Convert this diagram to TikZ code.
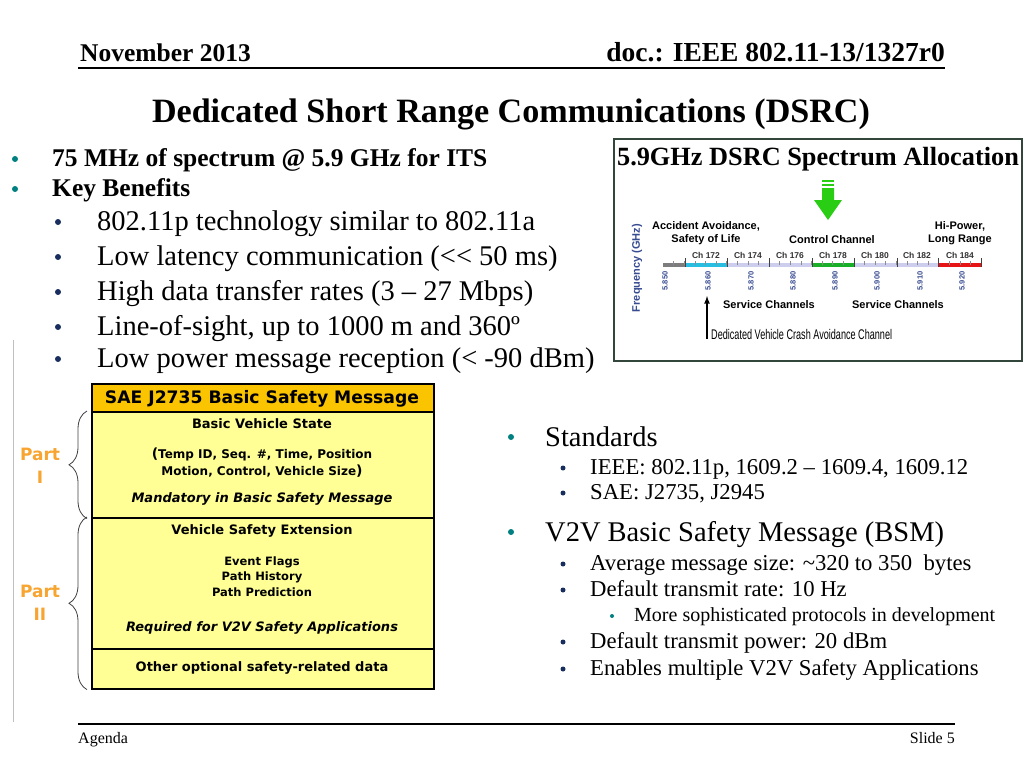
\documentclass[tikz,border=0pt]{standalone}
\usepackage{fontspec}
\setmainfont{Liberation Serif}
\newfontfamily\vfont{DejaVu Sans}
\newfontfamily\afont{Liberation Sans}
\usetikzlibrary{decorations.pathreplacing}

\definecolor{tealbul}{RGB}{0,128,128}
\definecolor{navybul}{RGB}{25,45,95}
\definecolor{hdrgold}{RGB}{250,196,0}
\definecolor{boxyel}{RGB}{255,255,150}
\definecolor{partorg}{RGB}{247,164,48}
\definecolor{frmgreen}{RGB}{50,70,60}
\definecolor{chgray}{RGB}{125,125,125}
\definecolor{chcyan}{RGB}{40,190,225}
\definecolor{chlav}{RGB}{205,205,238}
\definecolor{chgreen}{RGB}{25,175,40}
\definecolor{chred}{RGB}{230,20,20}
\definecolor{freqblue}{RGB}{55,75,145}
\definecolor{arrgreen}{RGB}{40,205,20}

\newcommand{\sz}[1]{\fontsize{#1}{#1}\selectfont}

\tikzset{
  hdr/.style={font=\sz{25.5}\bfseries},
  lone/.style={anchor=base west, font=\sz{25.5}\bfseries},
  ltwo/.style={anchor=base west, font=\sz{28.5}},
  rone/.style={anchor=base west, font=\sz{28.5}},
  rtwo/.style={anchor=base west, font=\sz{22.7}},
  rthree/.style={anchor=base west, font=\sz{20}},
  dotone/.style={circle, fill=tealbul, minimum size=6pt},
  dottwo/.style={circle, fill=navybul, minimum size=6pt},
  boxtxt/.style={font=\vfont\bfseries\sz{13}},
  boxsec/.style={draw, line width=1.6pt, fill=boxyel, minimum width=342pt, anchor=north west},
  partlbl/.style={text=partorg, align=center, font=\vfont\bfseries\fontsize{17}{23}\selectfont},
  chart/.style={font=\afont\bfseries\sz{11}},
  chlbl/.style={font=\afont\bfseries\sz{8.5}, text=black!80},
  freqlbl/.style={font=\afont\bfseries\sz{7.5}, text=freqblue}
}

\begin{document}
\begin{tikzpicture}[x=1pt, y=-1pt, every node/.style={inner sep=0pt}]
\useasboundingbox (0,0) rectangle (1024,768);

\draw (80,62)  node (date) [hdr, anchor=base west] {November 2013};
\draw (945,62) node (doc)  [hdr, anchor=base east, font=\sz{27.5}\bfseries] {doc.: IEEE 802.11-13/1327r0};
\draw[line width=1.5pt] (78,68) -- (945,68);

\draw (511,122) node (title) [anchor=base, font=\sz{34.1}\bfseries] {Dedicated Short Range Communications (DSRC)};

\draw (15,159) node (d1) [dotone] {};
\draw (52,166) node (b1) [lone] {75 MHz of spectrum @ 5.9 GHz for ITS};
\draw (15,189) node (d2) [dotone] {};
\draw (52,196) node (b2) [lone] {Key Benefits};

\draw (58,222) node (e1) [dottwo] {};
\draw (97,230) node (k1) [ltwo] {802.11p technology similar to 802.11a};
\draw (58,257) node (e2) [dottwo] {};
\draw (97,265) node (k2) [ltwo] {Low latency communication ({<}{<} 50 ms)};
\draw (58,292) node (e3) [dottwo] {};
\draw (97,300) node (k3) [ltwo] {High data transfer rates (3 -- 27 Mbps)};
\draw (58,327) node (e4) [dottwo] {};
\draw (97,335) node (k4) [ltwo] {Line-of-sight, up to 1000 m and 360º};
\draw (58,359) node (e5) [dottwo] {};
\draw (97,367) node (k5) [ltwo] {Low power message reception (< -90 dBm)};

\draw[black!25] (13,340) -- (13,722);

\draw (91,383) node (bsmhead) [boxsec, fill=hdrgold, minimum height=28pt] {};
\draw (91,411) node (partone) [boxsec, minimum height=106pt] {};
\draw (91,517) node (parttwo) [boxsec, minimum height=131pt] {};
\draw (91,648) node (partopt) [boxsec, minimum height=40pt] {};

\draw (262,399) node (bsmtitle) [boxtxt, font=\vfont\bfseries\sz{17.2}] {SAE J2735 Basic Safety Message};
\draw (262,424) node (bvs)  [boxtxt] {Basic Vehicle State};
\draw (262,454) node (bvs1) [boxtxt, font=\vfont\bfseries\sz{12}] {{\sz{14}(}Temp ID, Seq. \#, Time, Position};
\draw (262,471) node (bvs2) [boxtxt, font=\vfont\bfseries\sz{12}] {Motion, Control, Vehicle Size{\sz{14})}};
\draw (262,499) node (bvs3) [boxtxt, font=\vfont\bfseries\itshape\sz{13}] {Mandatory in Basic Safety Message};
\draw (262,531) node (vse)  [boxtxt] {Vehicle Safety Extension};
\draw (262,562) node (vse1) [boxtxt, font=\vfont\bfseries\sz{11.5}] {Event Flags};
\draw (262,577) node (vse2) [boxtxt, font=\vfont\bfseries\sz{11.5}] {Path History};
\draw (262,592) node (vse3) [boxtxt, font=\vfont\bfseries\sz{11.5}] {Path Prediction};
\draw (262,628) node (vse4) [boxtxt, font=\vfont\bfseries\itshape\sz{13}] {Required for V2V Safety Applications};
\draw (262,668) node (opt)  [boxtxt] {Other optional safety-related data};

\draw[black!75, line width=0.8pt, decorate, decoration={brace, amplitude=18pt}]
  ([xshift=-4pt]partone.south west) -- ([xshift=-4pt]partone.north west);
\draw[black!75, line width=0.8pt, decorate, decoration={brace, amplitude=18pt}]
  ([xshift=-4pt]partopt.south west) -- ([xshift=-4pt]parttwo.north west);
\draw (40,466) node (ponelbl) [partlbl] {Part\\I};
\draw (40,603) node (ptwolbl) [partlbl] {Part\\II};

\draw (511,437) node (s1) [dotone] {};
\draw (545,446) node (r1) [rone] {Standards};
\draw (563,468) node (s2) [dottwo, minimum size=5pt] {};
\draw (590,474) node (r2) [rtwo] {IEEE: 802.11p, 1609.2 -- 1609.4, 1609.12};
\draw (563,493) node (s3) [dottwo, minimum size=5pt] {};
\draw (590,499) node (r3) [rtwo] {SAE: J2735, J2945};
\draw (511,532) node (s4) [dotone] {};
\draw (545,541) node (r4) [rone] {V2V Basic Safety Message (BSM)};
\draw (563,564) node (s5) [dottwo, minimum size=5pt] {};
\draw (590,570) node (r5) [rtwo] {Average message size: \textasciitilde320 to 350\ \ bytes};
\draw (563,590) node (s6) [dottwo, minimum size=5pt] {};
\draw (590,596) node (r6) [rtwo] {Default transmit rate: 10 Hz};
\draw (612,616) node (s7) [dotone, minimum size=4pt] {};
\draw (634,621) node (r7) [rthree] {More sophisticated protocols in development};
\draw (563,642) node (s8) [dottwo, minimum size=5pt] {};
\draw (590,648) node (r8) [rtwo] {Default transmit power: 20 dBm};
\draw (563,669) node (s9) [dottwo, minimum size=5pt] {};
\draw (590,675) node (r9) [rtwo] {Enables multiple V2V Safety Applications};

\draw[line width=1.5pt] (78,724) -- (955,724);
\draw (78,743)  node (agenda) [anchor=base west, font=\sz{16}] {Agenda};
\draw (955,743) node (slide)  [anchor=base east, font=\sz{16}] {Slide 5};

\draw[frmgreen, line width=1.5pt, fill=white] (614,139) rectangle (1022,361);
\draw (818,165) node (spectitle) [anchor=base, font=\sz{26.3}\bfseries] {5.9GHz DSRC Spectrum Allocation};

\fill[arrgreen] (822,180) rectangle (834,182);
\fill[arrgreen] (822,184) rectangle (834,186);
\fill[arrgreen] (822,188) -- (834,188) -- (834,200) -- (842,200) -- (828,220) -- (814,200) -- (822,200) -- cycle;

\draw (706,226) node (acc1) [chart] {Accident Avoidance,};
\draw (706,240) node (acc2) [chart] {Safety of Life};
\draw (832,240) node (ctrl) [chart] {Control Channel};
\draw (960,226) node (hip1) [chart] {Hi-Power,};
\draw (960,240) node (hip2) [chart] {Long Range};
\draw (637,268) node (freq) [chart, rotate=90, text=freqblue] {Frequency (GHz)};

\fill[chgray]  (663,263) rectangle (685,267);
\fill[chcyan]  (685,263) rectangle (727,267);
\fill[chlav]   (727,263) rectangle (812,267);
\fill[chgreen] (812,263) rectangle (854,267);
\fill[chlav]   (854,263) rectangle (938,267);
\fill[chred]   (938,263) rectangle (981,267);
\foreach \i in {1,...,30}
  \draw[black!45, line width=0.5pt] ({663+10.6*\i},261) -- ({663+10.6*\i},265);
\foreach \x in {685,727,769,812,854,897,938,981}
  \draw[black!75, line width=0.8pt] (\x,258) -- (\x,267);
\foreach \c/\x in {172/706,174/748,176/790,178/833,180/875,182/917,184/960}
  \draw (\x,255) node (ch\c) [chlbl] {Ch \c};
\foreach \f/\x in {850/665,860/708,870/751,880/793,890/835,900/877,910/920,920/962}
  \draw (\x,281) node (f\f) [freqlbl, rotate=90] {5.\f};

\draw (769,305) node (svc1) [chart] {Service Channels};
\draw (898,305) node (svc2) [chart] {Service Channels};

\coordinate (crashtail) at (707,339);
\coordinate (crashtip) at (707,296);
\draw[line width=1.6pt, -latex] (crashtail) -- (crashtip);
\draw (711,334) node (crash) [anchor=west, font=\afont\sz{14}] {\scalebox{0.65}[1]{Dedicated Vehicle Crash Avoidance Channel}};
\end{tikzpicture}
\end{document}
